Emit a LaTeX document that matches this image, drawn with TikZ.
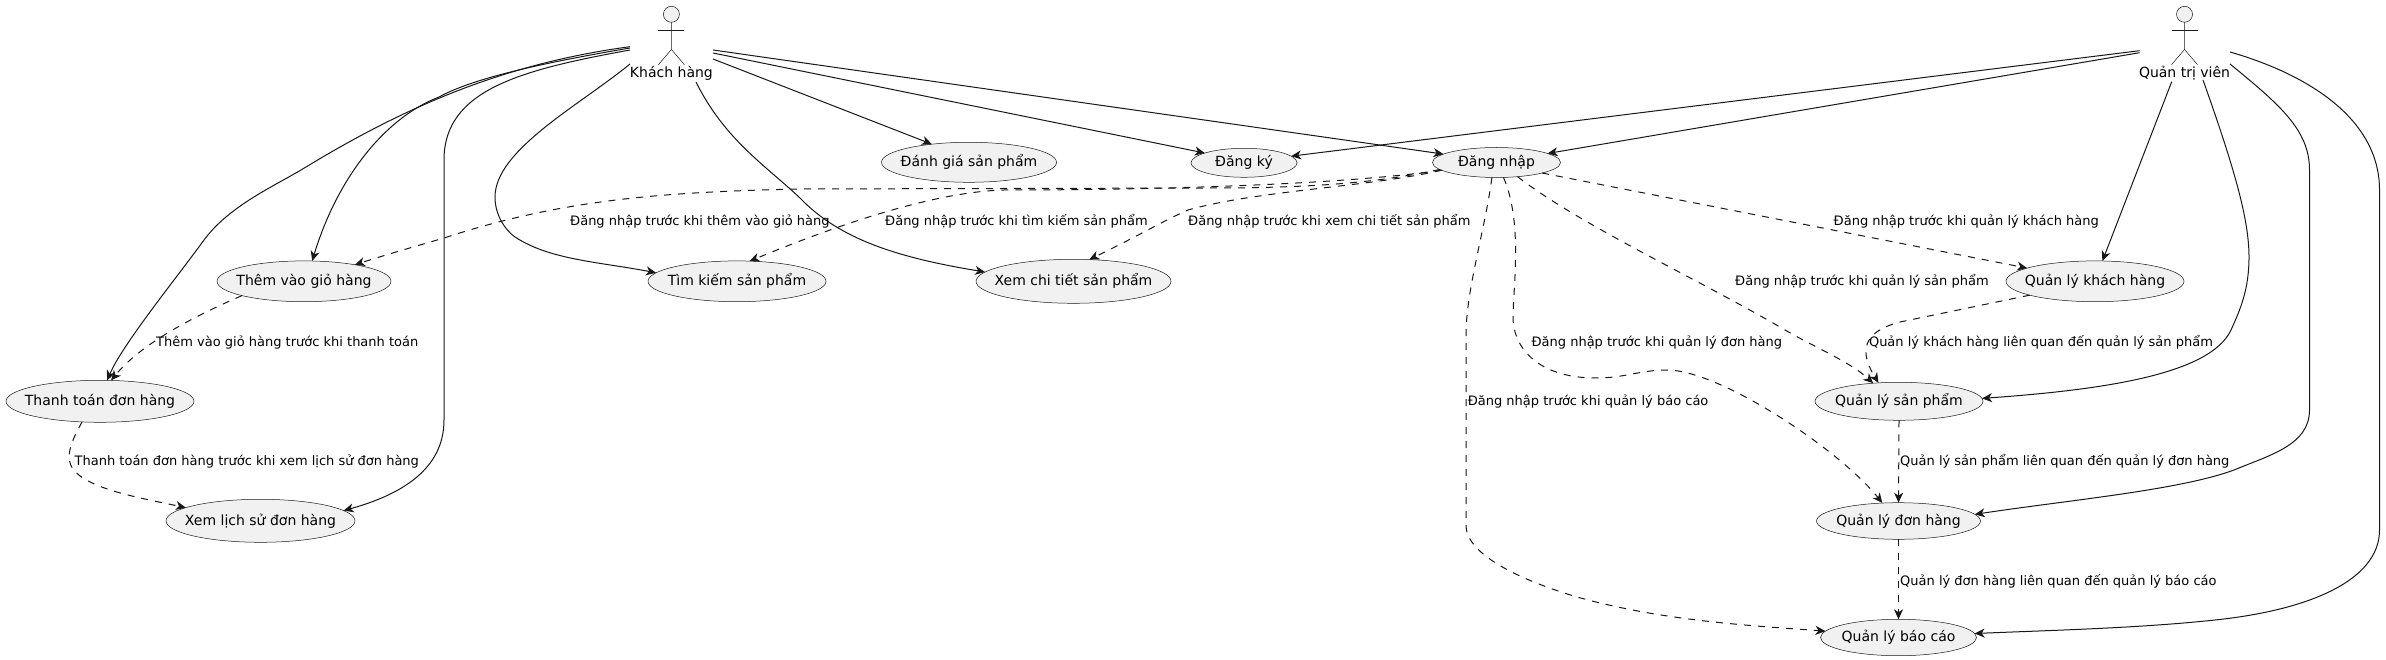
\documentclass[tikz,border=0pt]{standalone}
\usepackage{fontspec}
\setmainfont{DejaVu Sans}
\usetikzlibrary{shapes.geometric,arrows.meta}
\definecolor{ink}{HTML}{181818}
\definecolor{shade}{HTML}{F1F1F1}
\tikzset{
  usecase/.style={ellipse,draw=ink,fill=shade,line width=.5pt,inner sep=0pt,outer sep=0pt},
  casename/.style={inner sep=0pt,text=black,font=\fontsize{14}{16}\selectfont},
  actorhead/.style={circle,draw=ink,fill=shade,line width=.5pt,minimum size=16pt,inner sep=0pt,outer sep=0pt},
  stick/.style={draw=ink,line width=.5pt},
  actorname/.style={inner sep=0pt,font=\fontsize{14}{16}\selectfont,text=black},
  edgelabel/.style={anchor=west,inner sep=0pt,font=\fontsize{13}{15}\selectfont,text=black},
  link/.style={draw=ink,line width=1pt,-{Stealth[length=10pt,width=9pt,inset=3pt]}},
  dep/.style={link,dash pattern=on 7pt off 7pt},
}
\begin{document}
\begin{tikzpicture}[x=1pt,y=-1pt]
\path[fill=white,use as bounding box] (0,0) rectangle (2386,660);
% actors
\node[actorhead] (khhead) at (671.4,14.3) {};
\path[stick] (khhead.south) -- (671.4,49.5) coordinate (khhip) -- (658.4,64.7);
\path[stick] (khhip) -- (684.4,64.7);
\path[stick] (658.4,30) -- (684.4,30);
\node[actorname] (kh) at (671.4,73) {Khách hàng};
\node[actorhead] (qthead) at (2184.5,14.3) {};
\path[stick] (qthead.south) -- (2184.5,49.5) coordinate (qthip) -- (2171.5,64.7);
\path[stick] (qthip) -- (2197.5,64.7);
\path[stick] (2171.5,30) -- (2197.5,30);
\node[actorname] (qt) at (2184.5,73) {Quản trị viên};
% use cases
\node[usecase,minimum width=174pt,minimum height=40.8pt] (them) at (304,281.3) {};
\node[casename] (themt) at (them) {Thêm vào giỏ hàng};
\node[usecase,minimum width=188pt,minimum height=42pt] (tt) at (100,401.3) {};
\node[casename] (ttt) at (tt) {Thanh toán đơn hàng};
\node[usecase,minimum width=189pt,minimum height=43pt] (ls) at (260.5,520.8) {};
\node[casename] (lst) at (ls) {Xem lịch sử đơn hàng};
\node[usecase,minimum width=178pt,minimum height=40.8pt] (tim) at (737,281.3) {};
\node[casename] (timt) at (tim) {Tìm kiếm sản phẩm};
\node[usecase,minimum width=195pt,minimum height=44pt] (ct) at (1073.5,281.3) {};
\node[casename] (ctt) at (ct) {Xem chi tiết sản phẩm};
\node[usecase,minimum width=175pt,minimum height=40pt] (dg) at (969,162.3) {};
\node[casename] (dgt) at (dg) {Đánh giá sản phẩm};
\node[usecase,minimum width=106pt,minimum height=29pt] (dk) at (1244,162.8) {};
\node[casename] (dkt) at (dk) {Đăng ký};
\node[usecase,minimum width=128pt,minimum height=30pt] (dn) at (1496.5,162.5) {};
\node[casename] (dnt) at (dn) {Đăng nhập};
\node[usecase,minimum width=178pt,minimum height=40.8pt] (qlkh) at (2095,281.3) {};
\node[casename] (qlkht) at (qlkh) {Quản lý khách hàng};
\node[usecase,minimum width=168pt,minimum height=38pt] (qlsp) at (1899,401.3) {};
\node[casename] (qlspt) at (qlsp) {Quản lý sản phẩm};
\node[usecase,minimum width=164pt,minimum height=36.6pt] (qldh) at (1898.5,521) {};
\node[casename] (qldht) at (qldh) {Quản lý đơn hàng};
\node[usecase,minimum width=156pt,minimum height=36.4pt] (qlbc) at (1898.5,637.5) {};
\node[casename] (qlbct) at (qlbc) {Quản lý báo cáo};
% free ends at the actors
\coordinate (k1) at (630,46.7);
\coordinate (k2) at (630,48);
\coordinate (k3) at (630,50);
\coordinate (k4) at (630,64);
\coordinate (k5) at (696,82);
\coordinate (k6) at (713,59);
\coordinate (k7) at (713,53);
\coordinate (k8) at (713,50);
\coordinate (q1) at (2139.6,50.7);
\coordinate (q2) at (2139.6,52.7);
\coordinate (q3) at (2171.7,81.7);
\coordinate (q4) at (2203,80);
\coordinate (q5) at (2230,64);
\coordinate (q6) at (2230,52);
% customer links
\draw[link] (k1) .. controls (500,64) and (400,110) .. (306,167) .. controls (275,186) and (230,205) .. (204,240) .. controls (178,276) and (122,345) .. (tt.71.8);
\draw[link] (k2) .. controls (530,65) and (470,80) .. (439,97) .. controls (380,120) and (335,185) .. (them.68.5);
\draw[link] (k3) .. controls (520,70) and (444,90) .. (444,160) -- (444,420) .. controls (444,470) and (400,495) .. (ls.7.5);
\draw[link] (k4) .. controls (580,105) and (495,150) .. (495,197) .. controls (495,215) and (505,230) .. (515,237) .. controls (550,260) and (600,262) .. (tim.174);
\draw[link] (k5) .. controls (725,140) and (765,165) .. (800,198) .. controls (840,240) and (900,258) .. (ct.174.7);
\draw[link] (k6) -- (dg.154.9);
\draw[link] (k7) -- (dk.166);
\draw[link] (k8) -- (dn.171);
% admin links
\draw[link] (q1) -- (dk.8.5);
\draw[link] (q2) -- (dn.10.9);
\draw[link] (q3) -- (qlkh.70);
\draw[link] (q4) .. controls (2235,170) and (2249,220) .. (2249,257) .. controls (2249,290) and (2240,310) .. (2231,330) .. controls (2210,375) and (2100,390) .. (qlsp.2.3);
\draw[link] (q5) .. controls (2280,105) and (2309.5,130) .. (2309.5,170) -- (2309.5,410) .. controls (2309.5,445) and (2270,455) .. (2234,470) .. controls (2180,490) and (2070,500) .. (qldh.5.9);
\draw[link] (q6) .. controls (2310,75) and (2379.5,120) .. (2379.5,190) -- (2379.5,530) .. controls (2379.5,580) and (2310,610) .. (2215,620) .. controls (2140,628) and (2060,630) .. (qlbc.3.3);
% dependencies
\draw[dep] (dn.187.6) .. controls (1380,182) and (1320,188) .. (1208,188) -- (800,189) .. controls (660,192) and (560,200) .. (444,238) .. controls (420,245) and (385,255) .. (them.18.7);
\draw[dep] (dn.188) .. controls (1340,185) and (1150,190) .. (1004,190) .. controls (930,192) and (830,228) .. (tim.58);
\draw[dep] (dn.188) .. controls (1370,187) and (1260,190) .. (1188,210) .. controls (1165,220) and (1140,235) .. (ct.54.6);
\draw[dep] (dn.253.8) .. controls (1485,230) and (1466,290) .. (1466,335) -- (1466,527) .. controls (1468,555) and (1520,580) .. (1577,597) .. controls (1660,620) and (1740,625) .. (qlbc.175.8);
\draw[dep] (dn.295.8) .. controls (1522,220) and (1514,280) .. (1513,315) .. controls (1512,345) and (1535,378) .. (1596,378) .. controls (1625,378) and (1640,370) .. (1667,370) .. controls (1720,370) and (1840,450) .. (qldh.132.8);
\draw[dep] (dn.326) .. controls (1580,225) and (1700,280) .. (1785,330) .. controls (1820,350) and (1850,362) .. (qlsp.145.4);
\draw[dep] (dn.347.8) -- (qlkh.169);
\draw[dep] (them.193) .. controls (190,318) and (140,345) .. (tt.62.7);
\draw[dep] (tt.229.3) .. controls (72,440) and (62,460) .. (76.5,473) .. controls (95,490) and (140,498) .. (ls.170.7);
\draw[dep] (qlkh.192.2) -- (1900,322) .. controls (1870,330) and (1855,345) .. (qlsp.138);
\draw[dep] (qlsp.south) -- (qldh.north);
\draw[dep] (qldh.south) -- (qlbc.north);
% labels
\node[edgelabel] (l1) at (570,221.7) {Đăng nhập trước khi thêm vào giỏ hàng};
\node[edgelabel] (l2) at (885,221.7) {Đăng nhập trước khi tìm kiếm sản phẩm};
\node[edgelabel] (l3) at (1188,221.7) {Đăng nhập trước khi xem chi tiết sản phẩm};
\node[edgelabel] (l4) at (1833.5,221.7) {Đăng nhập trước khi quản lý khách hàng};
\node[edgelabel] (l5) at (1735,281.7) {Đăng nhập trước khi quản lý sản phẩm};
\node[edgelabel] (l6) at (1531.4,342.7) {Đăng nhập trước khi quản lý đơn hàng};
\node[edgelabel] (l7) at (1868.8,342.7) {Quản lý khách hàng liên quan đến quản lý sản phẩm};
\node[edgelabel] (l8) at (1467.6,401.7) {Đăng nhập trước khi quản lý báo cáo};
\node[edgelabel] (l9) at (1900,461.7) {Quản lý sản phẩm liên quan đến quản lý đơn hàng};
\node[edgelabel] (l10) at (1900,581.7) {Quản lý đơn hàng liên quan đến quản lý báo cáo};
\node[edgelabel] (l11) at (156,342.7) {Thêm vào giỏ hàng trước khi thanh toán};
\node[edgelabel] (l12) at (74.5,461.7) {Thanh toán đơn hàng trước khi xem lịch sử đơn hàng};
\end{tikzpicture}
\end{document}
